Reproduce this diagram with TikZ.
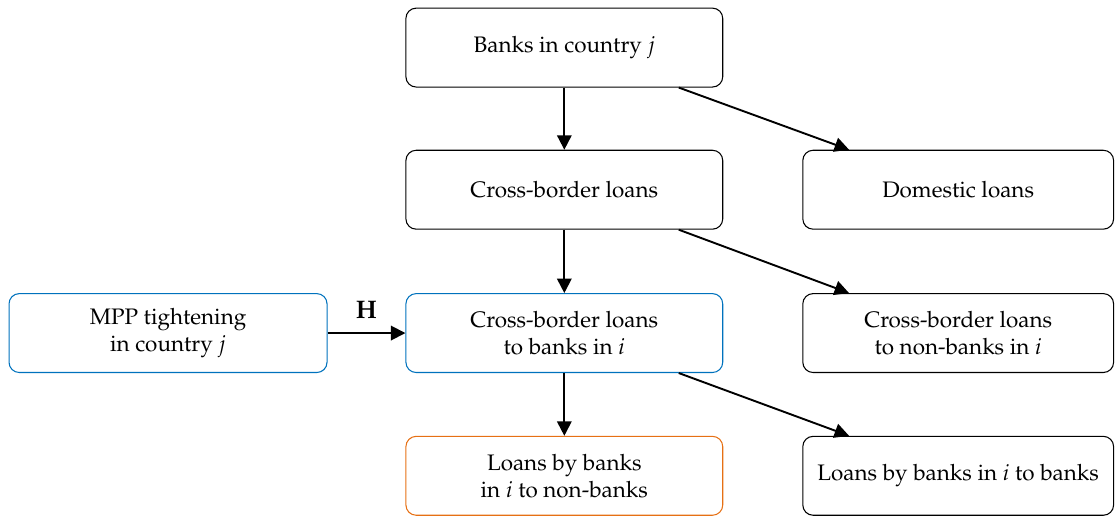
\documentclass[tikz,border=0pt]{standalone}
\usepackage[T1]{fontenc}
\usepackage{mathpazo}
\usepackage{xcolor}
\usetikzlibrary{arrows.meta,positioning,calc}
\definecolor{mppblue}{RGB}{0,114,189}
\definecolor{outorange}{RGB}{230,112,20}
\tikzset{
  box/.style={rectangle, rounded corners=0.17cm, draw=black, fill=none, minimum width=5.26cm, minimum height=1.31cm, line width=0.5pt, align=center, font=\fontsize{10.6}{12.6}\selectfont},
  rbox/.style={box, minimum width=5.16cm},
  flow/.style={-{Triangle[length=2.4mm,width=2.4mm]}, draw=black, line width=0.9pt}
}
\begin{document}
\begin{tikzpicture}
  \useasboundingbox (0,0) rectangle (18.53,-8.57);
  \node[box] (banks) at (9.37,-0.79) {Banks in country $j$};
  \node[box] (cbl) at (9.37,-3.15) {Cross-border loans};
  \node[rbox] (dom) at (15.91,-3.15) {Domestic loans};
  \node[box, draw=mppblue, minimum width=5.28cm] (mpp) at (2.79,-5.53) {MPP tightening\\in country $j$};
  \node[box, draw=mppblue] (cbb) at (9.37,-5.53) {Cross-border loans\\to banks in $i$};
  \node[rbox] (cbn) at (15.91,-5.53) {Cross-border loans\\to non-banks in $i$};
  \node[box, draw=outorange] (lnb) at (9.37,-7.90) {Loans by banks\\in $i$ to non-banks};
  \node[rbox] (lbb) at (15.91,-7.90) {Loans by banks in $i$ to banks};

  \draw[flow] (banks) -- (cbl);
  \draw[flow] (cbl) -- (cbb);
  \draw[flow] (cbb) -- (lnb);
  \draw[flow] ($(banks.south west)!0.86!(banks.south east)$) -- ($(dom.north west)!0.15!(dom.north east)$);
  \draw[flow] ($(cbl.south west)!0.86!(cbl.south east)$) -- ($(cbn.north west)!0.15!(cbn.north east)$);
  \draw[flow] ($(cbb.south west)!0.86!(cbb.south east)$) -- ($(lbb.north west)!0.15!(lbb.north east)$);
  \draw[flow] (mpp) -- node[above=3pt, font=\large] {$\mathbf{H}$} (cbb);
\end{tikzpicture}
\end{document}
